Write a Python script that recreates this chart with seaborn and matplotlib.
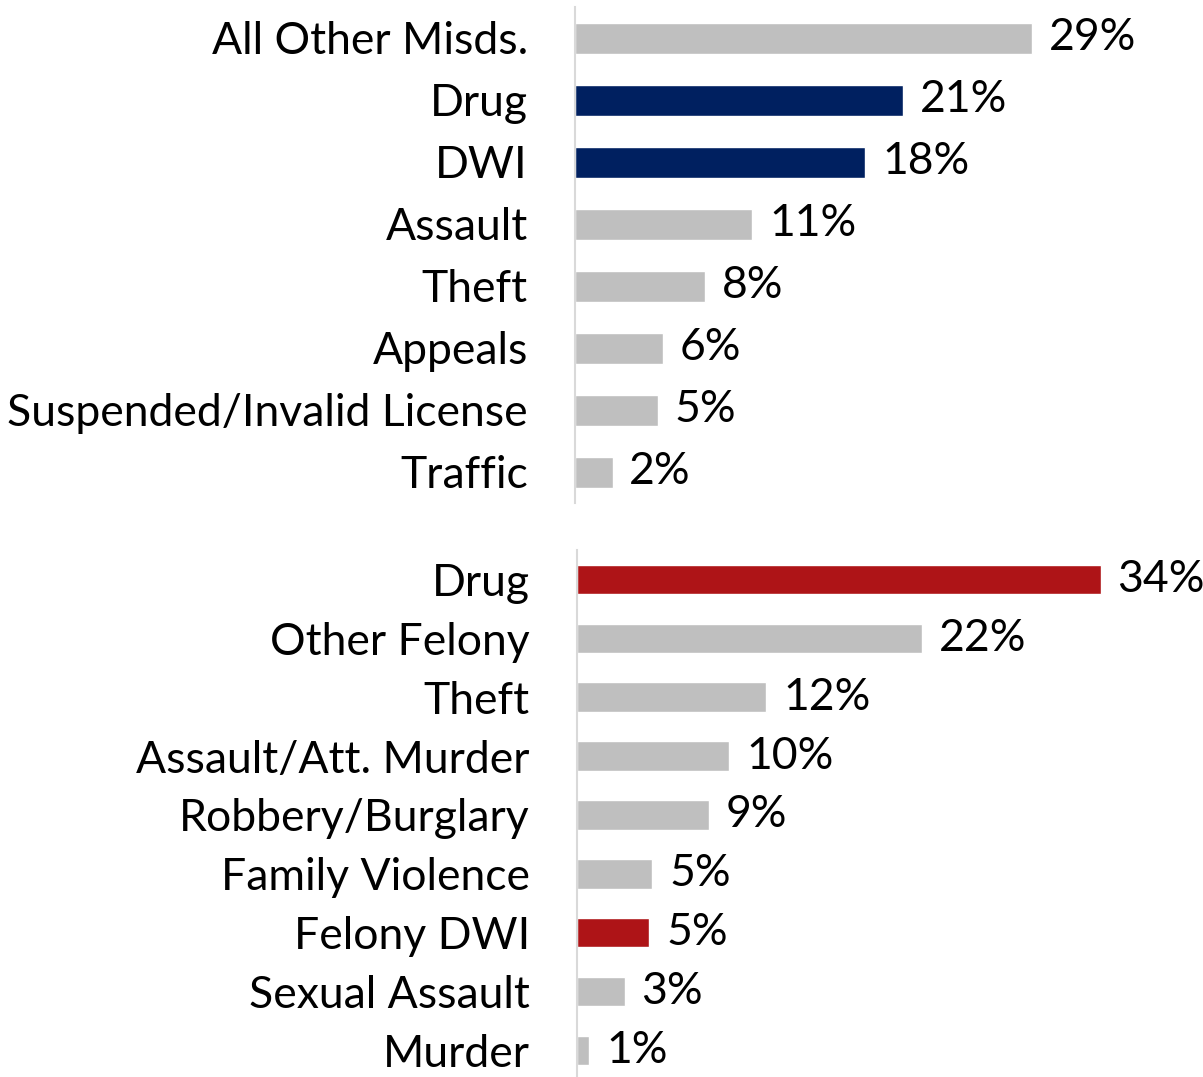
import matplotlib
matplotlib.use('Agg')
import matplotlib.pyplot as plt
import seaborn as sns

sns.set_style('white')
plt.rcParams['font.family'] = ['Lato', 'DejaVu Sans']
plt.rcParams['text.color'] = 'black'
plt.rcParams['ytick.color'] = 'black'

# misdemeanor offenses
misd_labels = ['All Other Misds.', 'Drug', 'DWI', 'Assault', 'Theft',
               'Appeals', 'Suspended/Invalid License', 'Traffic']
misd_values = [29.1, 20.9, 18.5, 11.3, 8.3, 5.6, 5.3, 2.4]
misd_text = ['29%', '21%', '18%', '11%', '8%', '6%', '5%', '2%']
misd_colors = ['#BFBFBF', '#002060', '#002060', '#BFBFBF', '#BFBFBF',
               '#BFBFBF', '#BFBFBF', '#BFBFBF']

# felony offenses
fel_labels = ['Drug', 'Other Felony', 'Theft', 'Assault/Att. Murder',
              'Robbery/Burglary', 'Family Violence', 'Felony DWI',
              'Sexual Assault', 'Murder']
fel_values = [34.0, 22.4, 12.3, 9.9, 8.6, 4.9, 4.7, 3.1, 0.8]
fel_text = ['34%', '22%', '12%', '10%', '9%', '5%', '5%', '3%', '1%']
fel_colors = ['#AE1417', '#BFBFBF', '#BFBFBF', '#BFBFBF', '#BFBFBF',
              '#BFBFBF', '#AE1417', '#BFBFBF', '#BFBFBF']

fig = plt.figure(figsize=(12.03, 10.77), dpi=100)
ax1 = fig.add_axes([575 / 1203, 1 - 503 / 1077, 628 / 1203, 496 / 1077])
ax2 = fig.add_axes([577 / 1203, 1 - 1080 / 1077, 626 / 1203, 530 / 1077])


def draw(ax, labels, values, text, colors, xmax):
    sns.barplot(x=values, y=labels, hue=labels, palette=colors,
                legend=False, width=0.5, saturation=1, ax=ax)
    for c, t in zip(ax.containers, text):
        ax.bar_label(c, labels=[t], padding=12, fontsize=32, color='black')
    ax.set_xlim(0, xmax)
    ax.set_ylim(len(labels) - 0.5, -0.5)
    ax.set_xticks([])
    ax.set_xlabel('')
    ax.set_ylabel('')
    ax.tick_params(axis='y', length=0, pad=34, labelsize=32, labelcolor='black')
    for s in ['top', 'right', 'bottom']:
        ax.spines[s].set_visible(False)
    ax.spines['left'].set_color('#D9D9D9')
    ax.spines['left'].set_linewidth(1.5)


draw(ax1, misd_labels, misd_values, misd_text, misd_colors, 628 / 15.7)
draw(ax2, fel_labels, fel_values, fel_text, fel_colors, 626 / 15.4)

fig.savefig('out.png', dpi=100)
